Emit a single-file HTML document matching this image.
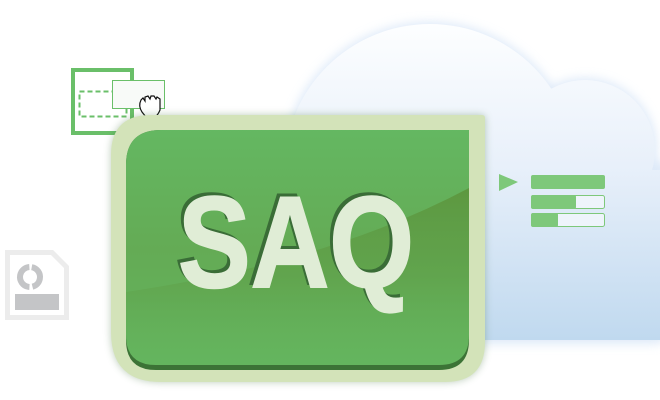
<!DOCTYPE html>
<html><head><style>
html,body{margin:0;padding:0;background:#fff;width:660px;height:400px;overflow:hidden}
</style></head><body>
<svg width="660" height="400" viewBox="0 0 660 400" xmlns="http://www.w3.org/2000/svg">
<defs>
<linearGradient id="cg" gradientUnits="userSpaceOnUse" x1="0" y1="24" x2="0" y2="340">
<stop offset="0" stop-color="#fdfeff"/><stop offset="0.45" stop-color="#e8f0fa"/><stop offset="1" stop-color="#c0d9ef"/>
</linearGradient>
<filter id="glow" x="-20%" y="-20%" width="140%" height="140%"><feGaussianBlur stdDeviation="5"/></filter>
<filter id="sh" x="-10%" y="-10%" width="120%" height="120%"><feGaussianBlur stdDeviation="4"/></filter>
<linearGradient id="gg" x1="0" y1="0" x2="0" y2="1">
<stop offset="0" stop-color="#64b862"/><stop offset="0.5" stop-color="#64ab55"/><stop offset="1" stop-color="#64b65f"/>
</linearGradient>
<linearGradient id="dk" gradientUnits="userSpaceOnUse" x1="0" y1="190" x2="0" y2="365">
<stop offset="0" stop-color="#5d9840"/><stop offset="0.5" stop-color="#5f9f48" stop-opacity="0.6"/><stop offset="1" stop-color="#64b65f" stop-opacity="0"/>
</linearGradient>
<clipPath id="inner"><path d="M161,130 H469 V335 Q469,365 439,365 H156 Q126,365 126,335 V165 Q126,130 161,130 Z"/></clipPath>
</defs>
<!-- cloud -->
<g filter="url(#glow)" opacity="0.6">
<circle cx="430" cy="170" r="148" fill="#c8dcf4"/>
<circle cx="585" cy="150" r="72" fill="#c8dcf4"/>
<rect x="283" y="160" width="390" height="184" rx="20" fill="#c8dcf4"/>
</g>
<g fill="url(#cg)">
<circle cx="430" cy="170" r="146"/>
<circle cx="585" cy="150" r="70"/>
<path d="M284,170 H670 V340 H300 Q284,340 284,320 Z"/>
</g>
<!-- progress widget -->
<polygon points="499,174 518,182 499,191" fill="#7ec87a"/>
<rect x="531" y="175" width="74" height="14" rx="2" fill="#7ec87a"/>
<rect x="531.5" y="195.5" width="73" height="13" rx="2" fill="#eef4fb" stroke="#7ec87a"/>
<rect x="531" y="195" width="45" height="14" rx="2" fill="#7ec87a"/>
<rect x="531.5" y="213.5" width="73" height="13" rx="2" fill="#eef4fb" stroke="#7ec87a"/>
<rect x="531" y="213" width="27" height="14" rx="2" fill="#7ec87a"/>
<!-- file icon -->
<path d="M7.5,252.5 H52 L66.5,267 V317.5 H7.5 Z" fill="#fff" stroke="#ececec" stroke-width="5"/>
<circle cx="30" cy="277" r="10" fill="none" stroke="#c4c5c7" stroke-width="6" stroke-dasharray="27 3 30 3" transform="rotate(-80 30 277)"/>
<rect x="15" y="294" width="44" height="16" fill="#c4c5c7"/>
<!-- drag icon -->
<rect x="73" y="70" width="59" height="63" fill="#fff" stroke="#6abf69" stroke-width="4"/>
<rect x="79.5" y="91.5" width="47" height="25" fill="none" stroke="#6abf69" stroke-width="2" stroke-dasharray="5 3"/>
<rect x="112.5" y="80.5" width="52" height="28" fill="#f8faf8" stroke="#6abf69"/>
<path d="M142,112 Q138,106 141,100 L143,98 L145,101 L145,97 L148,96 L150,99 L151,96 L154,96 L156,99 L157,97 L160,99 L160,110 Q158,115 155,117 L146,117 Z" fill="#fff" stroke="#111" stroke-width="1.2"/>
<!-- badge -->
<path d="M151,115 H482 Q485,115 485,118 V342 Q485,382 445,382 H161 Q111,382 111,332 V155 Q111,115 151,115 Z" fill="#3e6e3a" opacity="0.35" filter="url(#sh)"/>
<path d="M151,115 H482 Q485,115 485,118 V342 Q485,382 445,382 H161 Q111,382 111,332 V155 Q111,115 151,115 Z" fill="#d3e3b9"/>
<path d="M161,130 H469 V340 Q469,370 439,370 H156 Q126,370 126,340 V165 Q126,130 161,130 Z" fill="#3c7336"/>
<g clip-path="url(#inner)">
<rect x="120" y="125" width="360" height="250" fill="url(#gg)"/>
<path d="M126,292 Q330,262 469,188 V370 H126 Z" fill="url(#dk)"/>
</g>
<g font-family="Liberation Sans, sans-serif" font-weight="bold" font-size="130">
<text x="175" y="284" textLength="236" lengthAdjust="spacingAndGlyphs" fill="#3a6d37" stroke="#3a6d37" stroke-width="2">SAQ</text>
<text x="178" y="287" textLength="236" lengthAdjust="spacingAndGlyphs" fill="#e0edd6" stroke="#e0edd6" stroke-width="2">SAQ</text>
</g>
</svg>
</body></html>
